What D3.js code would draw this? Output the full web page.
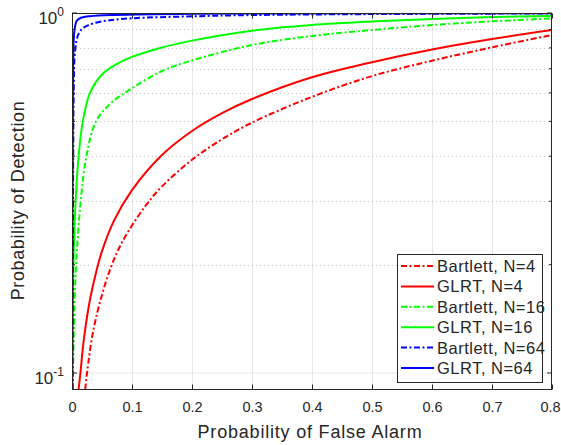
<!DOCTYPE html>
<html>
<head>
<meta charset="utf-8">
<script src="https://cdn.jsdelivr.net/npm/d3@7"></script>
<style>
  body { margin: 0; background: #fff; }
  text { font-family: "Liberation Sans", Arial, sans-serif; fill: #262626; }
</style>
</head>
<body>
<script>
// ROC curves: [false alarm prob, detection prob]
var glrt4 = [[0.011,0.09],[0.014,0.1],[0.02,0.125],[0.03,0.16],[0.04,0.19],[0.05,0.218],[0.07,0.265],[0.1,0.322],[0.15,0.403],[0.2,0.47],[0.25,0.527],[0.3,0.577],[0.4,0.663],[0.5,0.73],[0.6,0.792],[0.7,0.847],[0.8,0.897]];
var bart4 = [[0.022,0.09],[0.025,0.1],[0.035,0.13],[0.05,0.165],[0.065,0.197],[0.08,0.225],[0.1,0.257],[0.125,0.295],[0.15,0.33],[0.2,0.391],[0.25,0.446],[0.3,0.496],[0.4,0.585],[0.5,0.668],[0.6,0.737],[0.7,0.803],[0.8,0.869]];
var glrt16 = [[0.0005,0.09],[0.001,0.13],[0.003,0.22],[0.006,0.3],[0.011,0.4],[0.018,0.5],[0.03,0.6],[0.05,0.675],[0.075,0.722],[0.1,0.755],[0.15,0.802],[0.2,0.838],[0.3,0.893],[0.4,0.926],[0.5,0.947],[0.6,0.963],[0.7,0.974],[0.8,0.981]];
var bart16 = [[0.001,0.09],[0.002,0.11],[0.005,0.17],[0.008,0.215],[0.0145,0.3],[0.024,0.4],[0.04,0.5],[0.065,0.562],[0.1,0.618],[0.15,0.69],[0.2,0.738],[0.3,0.815],[0.4,0.863],[0.5,0.897],[0.6,0.926],[0.7,0.948],[0.8,0.966]];
var glrt64 = [[0.0003,0.09],[0.0008,0.3],[0.0015,0.6],[0.003,0.85],[0.005,0.915],[0.008,0.952],[0.015,0.97],[0.03,0.98],[0.07,0.988],[0.2,0.996],[0.8,0.999]];
var bart64 = [[0.001,0.09],[0.002,0.4],[0.003,0.62],[0.005,0.78],[0.0105,0.872],[0.019,0.91],[0.036,0.936],[0.063,0.955],[0.1,0.967],[0.2,0.979],[0.3,0.987],[0.5,0.993],[0.8,0.997]];

var seriesNames = ["Bartlett, N=4","GLRT, N=4","Bartlett, N=16","GLRT, N=16","Bartlett, N=64","GLRT, N=64"];
var seriesData = [bart4, glrt4, bart16, glrt16, bart64, glrt64];
var seriesColors = ["#ff0000","#ff0000","#00ff00","#00ff00","#0000ff","#0000ff"];
var seriesDashed = [true,false,true,false,true,false];

var xTicks = [0,0.1,0.2,0.3,0.4,0.5,0.6,0.7,0.8];
var yMajor = [0.1,1];
var yMinor = [0.2,0.3,0.4,0.5,0.6,0.7,0.8,0.9];

var W = 561, H = 445;
var L = 72, R = 552, T = 13, B = 390;
var dash = "6,2.5,2,2.5";

var svg = d3.select("body").append("svg").attr("width", W).attr("height", H);

var x = d3.scaleLinear().domain([0,0.8]).range([L,R]);
var y = d3.scaleLog().domain([0.0897,1]).range([B,T]);

// grid
var grid = svg.append("g");
grid.selectAll(".vg").data(xTicks.slice(1,-1)).enter().append("line")
  .attr("x1", d => Math.round(x(d))+0.5).attr("x2", d => Math.round(x(d))+0.5).attr("y1", T).attr("y2", B)
  .attr("stroke", "#e6e6e6").attr("stroke-width", 1);
grid.selectAll(".hg").data([0.1]).enter().append("line")
  .attr("x1", L).attr("x2", R).attr("y1", d => y(d)).attr("y2", d => y(d))
  .attr("stroke", "#e6e6e6").attr("stroke-width", 1);
grid.selectAll(".hm").data(yMinor).enter().append("line")
  .attr("x1", L).attr("x2", R).attr("y1", d => Math.round(y(d))+0.5).attr("y2", d => Math.round(y(d))+0.5)
  .attr("stroke", "#c4c4c4").attr("stroke-width", 1).attr("stroke-dasharray", "1,3");

// curves
svg.append("clipPath").attr("id","clip").append("rect")
  .attr("x", L).attr("y", T).attr("width", R-L).attr("height", B-T);

var line = d3.line().x(d => x(d[0])).y(d => y(d[1])).curve(d3.curveCatmullRom.alpha(0.5));

svg.append("g").attr("clip-path","url(#clip)")
  .selectAll("path").data(seriesData).enter().append("path")
  .attr("d", d => line(d))
  .attr("fill","none")
  .attr("stroke", (d,i) => seriesColors[i])
  .attr("stroke-width", 2)
  .attr("stroke-dasharray", (d,i) => seriesDashed[i] ? dash : null);

// axes box
var ax = svg.append("g").attr("stroke","#262626").attr("stroke-width",1);
ax.append("rect").attr("x", L+0.5).attr("y", T+0.5).attr("width", R-L-1).attr("height", B-T-1).attr("fill","none");

var xAxis = d3.axisBottom(x).tickValues(xTicks).tickSize(-5).tickPadding(12).tickFormat(d3.format("~g"));
var gx = svg.append("g").attr("transform","translate(0,"+(B-0.5)+")").call(xAxis);
gx.select(".domain").remove();
gx.selectAll("line").attr("stroke","#262626");
gx.selectAll("text").attr("font-size", 14.5)
  .attr("font-family","Liberation Sans, Arial, sans-serif").attr("fill","#262626");
// keep the last label inside the window
gx.selectAll("text").filter(d => d === 0.8).attr("dx", -2);

var gxt = svg.append("g").attr("transform","translate(0,"+(T+0.5)+")").call(d3.axisTop(x).tickValues(xTicks).tickSize(-5).tickFormat(""));
gxt.select(".domain").remove();
gxt.selectAll("line").attr("stroke","#262626");

function yTicksSide(xpos, dir) {
  var g = svg.append("g");
  g.selectAll(".maj").data(yMajor).enter().append("line")
    .attr("x1", xpos).attr("x2", xpos + dir*5).attr("y1", d => y(d)).attr("y2", d => y(d))
    .attr("stroke","#262626");
  g.selectAll(".min").data(yMinor).enter().append("line")
    .attr("x1", xpos).attr("x2", xpos + dir*3).attr("y1", d => y(d)).attr("y2", d => y(d))
    .attr("stroke","#262626");
}
yTicksSide(L, 1);
yTicksSide(R, -1);

// y tick labels 10^0, 10^-1
var exps = yMajor.map(v => Math.round(Math.log10(v)));
var yl = svg.append("g");
yMajor.forEach(function(v, i) {
  var t = yl.append("text").attr("x", 64).attr("y", y(v)+10.5).attr("text-anchor","end").attr("font-size",17);
  t.append("tspan").text("10");
  t.append("tspan").attr("dy",-8).attr("font-size",12).text(exps[i]);
});

// axis labels
svg.append("text").attr("x", (L+R)/2 - 2).attr("y", 438).attr("text-anchor","middle")
  .attr("font-size", 18).attr("letter-spacing", 0.8).text("Probability of False Alarm");
svg.append("text").attr("transform","translate(24,"+((T+B)/2 - 1)+") rotate(-90)")
  .attr("text-anchor","middle").attr("font-size", 18).attr("letter-spacing", 0.6).text("Probability of Detection");

// legend
var lg = svg.append("g");
lg.append("rect").attr("x", 397.5).attr("y", 254.5).attr("width", 145).attr("height", 128)
  .attr("fill","#fff").attr("stroke","#262626").attr("stroke-width",1);
seriesNames.forEach(function(name, i) {
  var cy = 266 + i*20.4;
  lg.append("line").attr("x1", 401).attr("x2", 434).attr("y1", cy).attr("y2", cy)
    .attr("stroke", seriesColors[i]).attr("stroke-width", 2)
    .attr("stroke-dasharray", seriesDashed[i] ? dash : null);
  lg.append("text").attr("x", 437).attr("y", cy+6).attr("font-size", 16.5).attr("letter-spacing", 0.5).text(name);
});
</script>
</body>
</html>
